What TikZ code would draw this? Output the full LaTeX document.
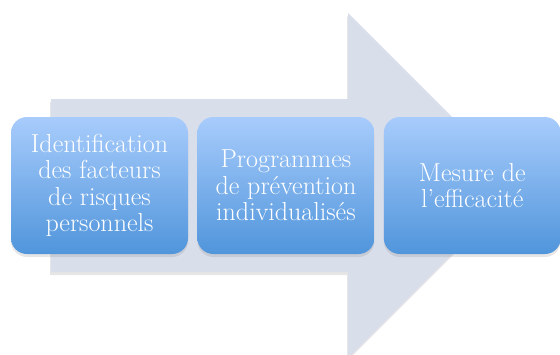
\documentclass[tikz,border=0pt]{standalone}
\usetikzlibrary{positioning,shadows}
\definecolor{arrowgray}{RGB}{217,222,235}
\definecolor{boxtop}{RGB}{168,204,252}
\definecolor{boxbottom}{RGB}{80,149,219}
\tikzset{
  stepbox/.style={rounded corners=16pt,top color=boxtop,bottom color=boxbottom,
    text=white,minimum width=177pt,minimum height=137pt,inner sep=0pt,align=center,
    font=\fontsize{26}{26.5}\selectfont,
    drop shadow={opacity=0.2,shadow xshift=0pt,shadow yshift=-3pt}},
}
\begin{document}
\begin{tikzpicture}[x=1pt,y=-1pt]
    \useasboundingbox (0,0) rectangle (560,354);
    % big arrow behind the steps
    \fill[arrowgray,drop shadow={opacity=0.2,shadow xshift=-1pt,shadow yshift=-3pt}]
      (51,99) -- (348,99) -- (348,13) -- (520.5,185.5) -- (348,358) -- (348,272) -- (51,272) -- cycle;
    % steps
    \node[stepbox] (ident) at (99.5,185.5) {Identification\\des facteurs\\de risques\\personnels};
    \node[stepbox,right=9pt of ident] (prog) {Programmes\\de prévention\\individualisés};
    \node[stepbox,right=9pt of prog] (mesure) {Mesure de\\l’efficacité};
  \end{tikzpicture}
\end{document}
